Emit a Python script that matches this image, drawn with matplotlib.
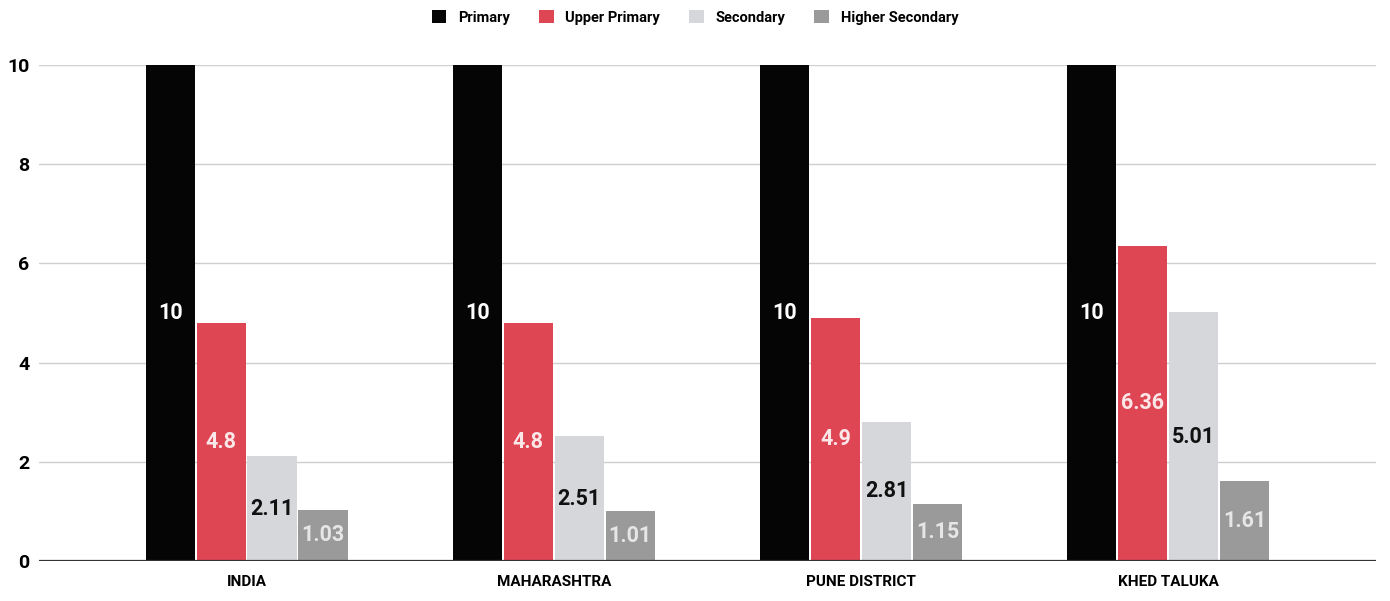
import matplotlib.pyplot as plt
import numpy as np

regions = ['INDIA', 'MAHARASHTRA', 'PUNE DISTRICT', 'KHED TALUKA']
levels = ['Primary', 'Upper Primary', 'Secondary', 'Higher Secondary']

primary = [10, 10, 10, 10]
upper_primary = [4.8, 4.8, 4.9, 6.36]
secondary = [2.11, 2.51, 2.81, 5.01]
higher_secondary = [1.03, 1.01, 1.15, 1.61]

colors = ['#050505', '#de4654', '#d5d7da', '#9a9a9a']
label_colors = ['white', '#fbe6e8', '#111111', '#e6e6e6']

cond = ['Roboto', 'DejaVu Sans']

fig = plt.figure(figsize=(13.9, 6.01), dpi=100)
ax = fig.add_axes([0.028, 0.0666, 0.962, 0.8253])

x = np.arange(len(regions))
width = 0.16
step = 0.166
series = [primary, upper_primary, secondary, higher_secondary]

for i, vals in enumerate(series):
    pos = x + (i - 1.5) * step
    bars = ax.bar(pos, vals, width, color=colors[i], label=levels[i], zorder=3)
    for b, v in zip(bars, vals):
        ax.text(b.get_x() + b.get_width() / 2, v / 2, f'{v:g}',
                ha='center', va='center', fontsize=15.5, fontweight='bold',
                color=label_colors[i], family='Roboto', zorder=4)

ax.set_xlim(-0.676, 3.677)
ax.set_ylim(0, 10)
ax.set_yticks([0, 2, 4, 6, 8, 10])
ax.grid(axis='y', color='#cfcfcf', linewidth=1, zorder=0)
ax.axhline(0, color='#333333', linewidth=1.6, zorder=5)

for s in ax.spines.values():
    s.set_visible(False)
ax.tick_params(axis='both', length=0)
ax.tick_params(axis='y', pad=7)
ax.tick_params(axis='x', pad=10)
ax.set_xticks(x)
ax.set_xticklabels(regions)
for t in ax.get_xticklabels():
    t.set_family(cond)
    t.set_fontweight('bold')
    t.set_fontsize(11)
for t in ax.get_yticklabels():
    t.set_family(cond)
    t.set_fontweight('bold')
    t.set_fontsize(14)

leg = fig.legend(loc='upper center', bbox_to_anchor=(0.5, 1.005), ncol=4,
                 frameon=False, handlelength=1.0, handleheight=1.0,
                 columnspacing=2.0, handletextpad=0.8,
                 prop={'family': cond, 'weight': 'bold', 'size': 10.5})

fig.savefig('out.png', dpi=100)
